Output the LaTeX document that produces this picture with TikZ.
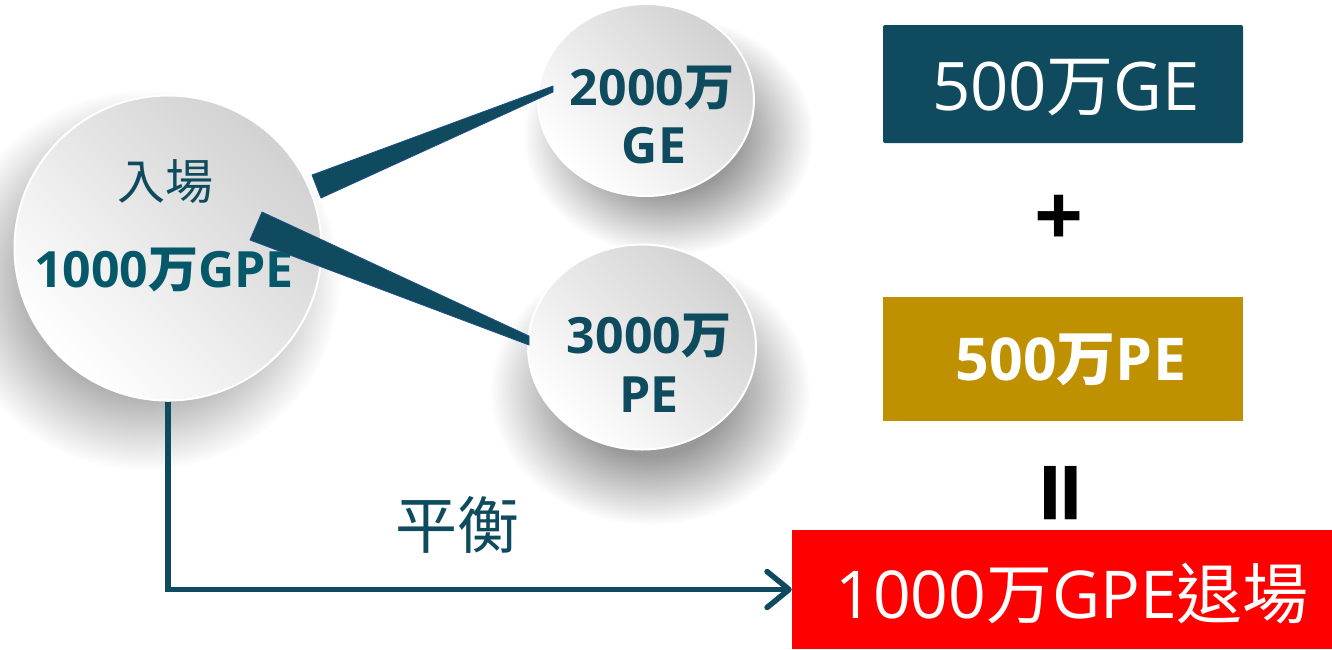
\documentclass[tikz,border=0pt]{standalone}
\usepackage{fontspec}
\setmainfont{Open Sans}
\newfontfamily\cjk{Noto Sans CJK TC}
\usetikzlibrary{arrows.meta,fadings,shapes.geometric}
\definecolor{tealdark}{HTML}{0F4A5E}
\definecolor{tealtext}{HTML}{0E4B5F}
\definecolor{tealbig}{HTML}{05586A}
\definecolor{wedgeedge}{HTML}{1F4E8C}
\definecolor{goldbox}{HTML}{BF9000}
\definecolor{redbox}{HTML}{FF0000}
\newcommand\fs[1]{\fontsize{#1}{#1}\selectfont}
\newcommand\W{{\cjk 万}}
\pgfdeclareradialshading{shfadeshade}{\pgfpointorigin}{color(0bp)=(white); color(12bp)=(white); color(25bp)=(black)}
\pgfdeclarefading{shfade}{\pgfuseshading{shfadeshade}}
\begin{document}
\begin{tikzpicture}[x=1pt,y=-1pt,
  circ/.style={ellipse, draw=white, line width=2pt, top color=black!18, bottom color=white, shading angle=-45, inner sep=0pt},
  shadowfill/.style={fill=black!40, path fading=shfade},
  wedge/.style={fill=tealdark, draw=wedgeedge, line width=0.8pt, line join=round},
  ctext/.style={text=tealtext, font=\bfseries\fs{50}, anchor=base, inner sep=0pt},
  boxtext/.style={text=white, anchor=base, inner sep=0pt},
  sumbox/.style={inner sep=0pt, minimum width=360pt}
]
\useasboundingbox (0,0) rectangle (1332,649);
\fill[white] (0,0) rectangle (1332,649);

% soft shadows
\fill[shadowfill] (145,280) ellipse [x radius=195, y radius=190];
\fill[shadowfill] (668,135) ellipse [x radius=145, y radius=120];
\fill[shadowfill] (650,390) ellipse [x radius=160, y radius=135];

% circles
\node[circ, minimum width=307pt, minimum height=305pt] (big) at (168,248) {};
\node[circ, minimum width=216pt, minimum height=192pt] (ge) at (646,100) {};
\node[circ, minimum width=228pt, minimum height=205pt] (pe) at (642,347) {};

% circle texts
\node[text=tealtext, font=\cjk\fs{48}, inner sep=0pt] (ruchang) at (165,182) {入場};
\node[ctext, text=tealbig] (bigval) at (164,287) {1000\W GPE};
\node[ctext] (gea) at (652,105) {2000\W};
\node[ctext] (geb) at (654,163) {GE};
\node[ctext] (pea) at (649,353) {3000\W};
\node[ctext] (peb) at (649,412) {PE};

% wedge connectors
\coordinate (w1a) at (312,175);
\coordinate (w1b) at (321,198);
\coordinate (w1t) at (553,86);
\coordinate (w1u) at (553,92);
\coordinate (w2a) at (262,212);
\coordinate (w2b) at (250,240);
\coordinate (w2t) at (529,336);
\coordinate (w2u) at (529,345);
\draw[wedge] (w1a) -- (w1t) -- (w1u) -- (w1b) -- cycle;
\draw[wedge] (w2a) -- (w2t) -- (w2u) -- (w2b) -- cycle;

% right side
\node[sumbox, fill=tealdark, rounded corners=2pt, minimum height=118pt] (b1) at (1063,84) {};
\node[boxtext, font=\fs{67}] (b1t) at (1066,110) {500\W GE};
\node[text=black, font=\bfseries\fs{86}, inner sep=0pt] (plus) at (1059,221) {+};
\node[sumbox, fill=goldbox, minimum height=124pt] (b2) at (1063,359) {};
\node[boxtext, font=\bfseries\fs{59}] (b2t) at (1071,380) {500\W PE};
\node[text=black, font=\bfseries\fs{110}, rotate=90, inner sep=0pt] (eq) at (1072,493) {=};
\node[inner sep=0pt, fill=redbox, minimum width=540pt, minimum height=119pt] (red) at (1062,589.5) {};
\node[boxtext, font=\fs{66}] (redt) at (1072,618) {1000\W GPE{\cjk 退場}};

% balance arrow
\node[text=tealtext, font=\cjk\fs{62}, inner sep=0pt] (ph) at (457,525) {平衡};
\draw[tealdark, line width=5.5pt, -{Straight Barb[length=22pt, width=36pt, round]}] (big.south) |- (red.west);
\end{tikzpicture}
\end{document}
